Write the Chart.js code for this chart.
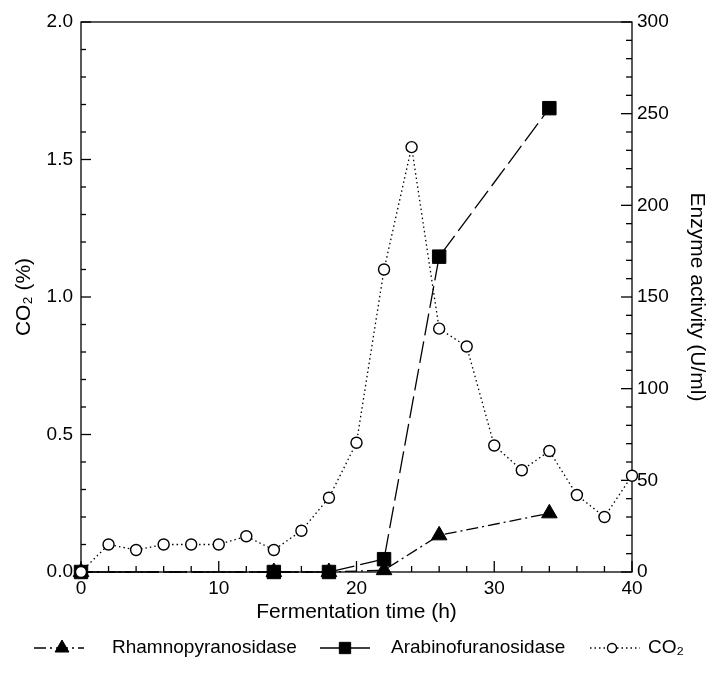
<!DOCTYPE html>
<html>
<head>
<meta charset="utf-8">
<script src="https://cdn.jsdelivr.net/npm/chart.js@4.4.1/dist/chart.umd.min.js"></script>
<style>
  html, body { margin: 0; padding: 0; background: #fff; }
  #wrap { width: 709px; height: 676px; }
</style>
</head>
<body>
<div id="wrap"><canvas id="chart"></canvas></div>
<script>
// CO2 readings, every 2 h
const co2Hours = [0, 2, 4, 6, 8, 10, 12, 14, 16, 18, 20, 22, 24, 26, 28, 30, 32, 34, 36, 38, 40];
const co2Values = [0, 0.10, 0.08, 0.10, 0.10, 0.10, 0.13, 0.08, 0.15, 0.27, 0.47, 1.10, 1.545, 0.885, 0.82, 0.46, 0.37, 0.44, 0.28, 0.20, 0.35];

// enzyme activity (U/ml)
const enzymeHours = [0, 14, 18, 22, 26, 34];
const rhamnoValues = [0, 0, 0, 1, 20, 32];
const arabinoValues = [0, 0, 0, 7, 172, 253];

const xTickStep = 10, xMinorStep = 2;
const co2TickStep = 0.5, co2MinorStep = 0.1;
const enzTickStep = 50, enzMinorStep = 10;

const FONT = '"Liberation Sans", Arial, sans-serif';
const TICK_SIZE = 19;
const TITLE_SIZE = 21;

function pts(xs, ys) {
    return xs.map((x, i) => ({ x: x, y: ys[i] }));
}

// box + inward tick marks, drawn from the scales
const frame = {
    id: 'frame',
    beforeDatasetsDraw(chart) {
        const { ctx, chartArea: a, scales } = chart;
        ctx.save();
        ctx.strokeStyle = '#000';
        ctx.lineWidth = 1.3;
        ctx.strokeRect(a.left, a.top, a.right - a.left, a.bottom - a.top);

        const tick = (x1, y1, x2, y2) => {
            ctx.beginPath();
            ctx.moveTo(x1, y1);
            ctx.lineTo(x2, y2);
            ctx.stroke();
        };
        const sx = scales.x, sl = scales.y, sr = scales.y1;
        for (let v = sx.min; v <= sx.max + 1e-9; v += xMinorStep) {
            const px = sx.getPixelForValue(v);
            const len = Math.abs(v % xTickStep) < 1e-9 ? 11 : 6;
            tick(px, a.bottom, px, a.bottom - len);
        }
        for (let i = 0; i <= Math.round((sl.max - sl.min) / co2MinorStep); i++) {
            const v = sl.min + i * co2MinorStep;
            const py = sl.getPixelForValue(v);
            const len = i % Math.round(co2TickStep / co2MinorStep) === 0 ? 10 : 5;
            tick(a.left, py, a.left + len, py);
        }
        for (let v = sr.min; v <= sr.max + 1e-9; v += enzMinorStep) {
            const py = sr.getPixelForValue(v);
            const len = Math.abs(v % enzTickStep) < 1e-9 ? 11 : 6;
            tick(a.right, py, a.right - len, py);
        }
        ctx.restore();
    },
    afterDraw(chart) {
        // legend row under the axis title
        const { ctx } = chart;
        const y = 648;
        ctx.save();
        ctx.lineWidth = 1.3;
        const seg = (x1, x2, dash) => {
            ctx.strokeStyle = '#000';
            ctx.setLineDash(dash);
            ctx.beginPath();
            ctx.moveTo(x1, y);
            ctx.lineTo(x2, y);
            ctx.stroke();
        };
        const layout = [
            { x1: 34, x2: 84, mx: 62, r: 8, tx: 112 },
            { x1: 320, x2: 370, mx: 345, r: 8, tx: 391 },
            { x1: 590, x2: 640, mx: 612, r: 4.5, tx: 648 }
        ];
        chart.data.datasets.forEach((ds, i) => {
            const L = layout[i];
            seg(L.x1, L.x2, ds.borderDash || []);
            ctx.setLineDash([]);
            ctx.fillStyle = ds.pointBackgroundColor;
            ctx.strokeStyle = ds.pointBorderColor;
            ctx.lineWidth = ds.pointBorderWidth;
            Chart.helpers.drawPoint(ctx, {
                pointStyle: ds.pointStyle,
                radius: L.r,
                borderWidth: ds.pointBorderWidth
            }, L.mx, y);
            ctx.lineWidth = 1.3;
            ctx.fillStyle = '#000';
            ctx.font = '19px ' + FONT;
            ctx.textBaseline = 'middle';
            ctx.textAlign = 'left';
            ctx.fillText(ds.label, L.tx, y);
        });
        ctx.restore();
    }
};

const ctx = document.getElementById('chart').getContext('2d');
new Chart(ctx, {
    type: 'line',
    data: {
        datasets: [
            {
                label: 'Rhamnopyranosidase',
                data: pts(enzymeHours, rhamnoValues),
                yAxisID: 'y1',
                borderColor: '#000',
                borderWidth: 1.3,
                borderDash: [12, 4, 2, 4],
                pointStyle: 'triangle',
                pointRadius: 9,
                pointBackgroundColor: '#000',
                pointBorderColor: '#000',
                pointBorderWidth: 1,
                order: 2,
                clip: false
            },
            {
                label: 'Arabinofuranosidase',
                data: pts(enzymeHours, arabinoValues),
                yAxisID: 'y1',
                borderColor: '#000',
                borderWidth: 1.3,
                borderDash: [22, 6],
                pointStyle: 'rect',
                pointRadius: 9.5,
                pointBackgroundColor: '#000',
                pointBorderColor: '#000',
                pointBorderWidth: 1,
                order: 1,
                clip: false
            },
            {
                label: 'CO₂',
                data: pts(co2Hours, co2Values),
                yAxisID: 'y',
                borderColor: '#000',
                borderWidth: 1.3,
                borderDash: [1.5, 3],
                pointStyle: 'circle',
                pointRadius: 5.5,
                pointBackgroundColor: '#fff',
                pointBorderColor: '#000',
                pointBorderWidth: 1.4,
                order: 0,
                clip: false
            }
        ]
    },
    options: {
        responsive: true,
        maintainAspectRatio: false,
        animation: false,
        layout: { padding: { top: 22, left: 0, right: 0, bottom: 0 } },
        plugins: {
            legend: { display: false },
            tooltip: { enabled: false }
        },
        elements: { line: { tension: 0 } },
        scales: {
            x: {
                type: 'linear',
                min: 0,
                max: 40,
                grid: { display: false, drawTicks: false },
                border: { display: false },
                ticks: {
                    stepSize: xTickStep,
                    color: '#000',
                    padding: 5,
                    font: { family: FONT, size: TICK_SIZE }
                },
                title: {
                    display: true,
                    text: 'Fermentation time (h)',
                    color: '#000',
                    font: { family: FONT, size: TITLE_SIZE },
                    padding: { top: 0, bottom: 51 }
                },
                afterFit(scale) { scale.height = 104; }
            },
            y: {
                position: 'left',
                min: 0,
                max: 2,
                grid: { display: false, drawTicks: false },
                border: { display: false },
                ticks: {
                    stepSize: co2TickStep,
                    color: '#000',
                    padding: 8,
                    font: { family: FONT, size: TICK_SIZE },
                    callback: v => v.toFixed(1)
                },
                title: {
                    display: true,
                    text: 'CO₂ (%)',
                    color: '#000',
                    font: { family: FONT, size: TITLE_SIZE },
                    padding: { top: 12, bottom: 0 }
                },
                afterFit(scale) { scale.width = 81; }
            },
            y1: {
                position: 'right',
                min: 0,
                max: 300,
                grid: { display: false, drawTicks: false },
                border: { display: false },
                ticks: {
                    stepSize: enzTickStep,
                    color: '#000',
                    padding: 5,
                    font: { family: FONT, size: TICK_SIZE }
                },
                title: {
                    display: true,
                    text: 'Enzyme activity (U/ml)',
                    color: '#000',
                    font: { family: FONT, size: TITLE_SIZE },
                    padding: { top: 0, bottom: 0 }
                },
                afterFit(scale) { scale.width = 77; }
            }
        }
    },
    plugins: [frame]
});
</script>
</body>
</html>
